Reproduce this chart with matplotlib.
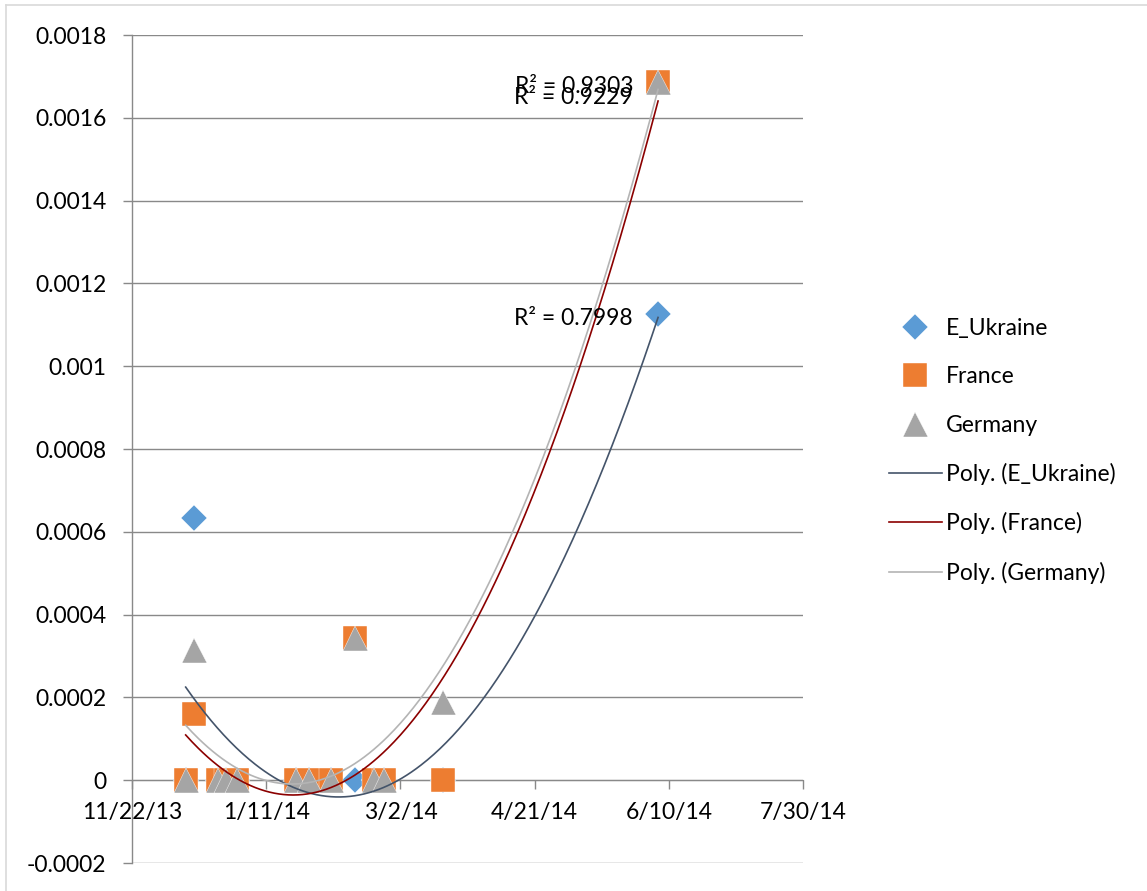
import matplotlib

matplotlib.use("Agg")
import matplotlib.dates as mdates
import matplotlib.pyplot as plt
import numpy as np
import pandas as pd
from matplotlib.lines import Line2D

plt.rcParams["font.family"] = ["Lato", "DejaVu Sans"]

# observation dates (shared by all three series)
dates = ["2013-12-12", "2013-12-15", "2013-12-24", "2013-12-27", "2013-12-31",
         "2014-01-22", "2014-01-27", "2014-02-04", "2014-02-13", "2014-02-20",
         "2014-02-24", "2014-03-18", "2014-06-06"]
e_ukraine = [0, 0.000633, 0, 0, 0, 0, 0, 0, 0, 0, 0, 0, 0.001126]
france = [0, 0.000159, 0, 0, 0, 0, 0, 0, 0.000343, 0, 0, 0, 0.001686]
germany = [0, 0.000314, 0, 0, 0, 0, 0, 0, 0.000343, 0, 0, 0.000188, 0.001686]
r2_labels = ["R² = 0.7998", "R² = 0.9229", "R² = 0.9303"]

x_ticks = ["2013-11-22", "2014-01-11", "2014-03-02", "2014-04-21", "2014-06-10", "2014-07-30"]
y_ticks = [-0.0002, 0, 0.0002, 0.0004, 0.0006, 0.0008, 0.001, 0.0012, 0.0014, 0.0016, 0.0018]
y_tick_labels = ["-0.0002", "0", "0.0002", "0.0004", "0.0006", "0.0008", "0.001",
                 "0.0012", "0.0014", "0.0016", "0.0018"]

W, H = 1147, 891
fig = plt.figure(figsize=(W / 100, H / 100), dpi=100)
ax = fig.add_axes([132 / W, 1 - 863 / H, (803 - 132) / W, (863 - 35) / H])

# light chart border (only top/left edges inside the crop)
fig.add_artist(Line2D([6 / W, 6 / W], [0, 1 - 5 / H], color="#d9d9d9", lw=1.2))
fig.add_artist(Line2D([6 / W, 1], [1 - 5 / H, 1 - 5 / H], color="#d9d9d9", lw=1.2))

x = mdates.date2num(pd.to_datetime(dates))
series = [
    ("E_Ukraine", e_ukraine, dict(marker="D", ms=13, color="#5b9bd5"), "#44546a"),
    ("France", france, dict(marker="s", ms=17.5, color="#ed7d31"), "#8b0000"),
    ("Germany", germany, dict(marker="^", ms=18, color="#a5a5a5"), "#b4b4b4"),
]
marker_handles, line_handles = [], []
for name, y, mstyle, lcolor in series:
    h, = ax.plot(x, y, ls="none", markeredgecolor="white", markeredgewidth=0.3,
                 label=name, zorder=3, **mstyle)
    marker_handles.append(h)

trend_offsets = [(-18, -3), (-18, -11), (-18, -3)]
for (name, y, _, lcolor), r2, off in zip(series, r2_labels, trend_offsets):
    coef = np.polyfit(x - x[0], y, 2)
    xs = np.linspace(x.min(), x.max(), 300)
    h, = ax.plot(xs, np.polyval(coef, xs - x[0]), color=lcolor, lw=1.2,
                 label=f"Poly. ({name})", zorder=4)
    line_handles.append(h)
    ax.annotate(r2, xy=(x[-1], y[-1]), xytext=off, textcoords="offset points",
                ha="right", va="center", fontsize=16.5, color="#000000", zorder=5)

xt = mdates.date2num(pd.to_datetime(x_ticks))
ax.set_xlim(xt[0], xt[-1])
ax.set_xticks(xt)
ax.set_xticklabels([d.strftime("%-m/%-d/%y") for d in pd.to_datetime(x_ticks)])
ax.set_ylim(y_ticks[0], y_ticks[-1])
ax.set_yticks(y_ticks)
ax.set_yticklabels(y_tick_labels)

grid_c = "#898989"
ax.yaxis.grid(True, color=grid_c, lw=1.0)
ax.set_axisbelow(True)
for s in ("top", "right", "bottom"):
    ax.spines[s].set_visible(False)
ax.spines["left"].set_color(grid_c)
ax.spines["left"].set_linewidth(1.0)
ax.tick_params(axis="both", colors=grid_c, labelcolor="black", labelsize=16.5,
               length=6.5, width=1.0, direction="out")
ax.tick_params(axis="y", pad=12)
ax.tick_params(axis="x", pad=9)
ax.spines["bottom"].set_visible(True)
ax.spines["bottom"].set_position(("data", 0))
ax.spines["bottom"].set_color(grid_c)
ax.spines["bottom"].set_zorder(1)

fig.legend(handles=marker_handles + line_handles, loc="upper left",
           bbox_to_anchor=(889 / W, 1 - 318 / H), frameon=False, fontsize=16.5,
           handlelength=2.3, handletextpad=0.2, labelspacing=1.19, borderpad=0,
           borderaxespad=0, numpoints=1)

fig.savefig("out.png", dpi=100, facecolor="white")
